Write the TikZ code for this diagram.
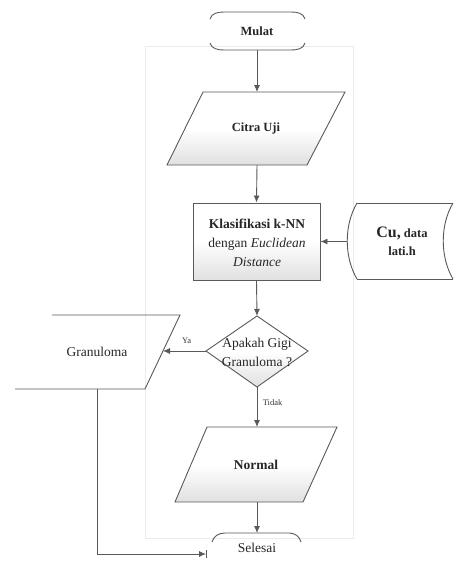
\documentclass[tikz,border=0pt]{standalone}
\usepackage{fontspec}
\setmainfont{Liberation Serif}
\usetikzlibrary{arrows.meta}
\begin{document}
\begin{tikzpicture}[x=1pt,y=-1pt,
  line/.style={draw=black!65, line width=0.9pt},
  arr/.style={line, -{Latex[length=7pt,width=6pt]}},
  shade/.style={top color=white, bottom color=black!12, middle color=white},
  lbl/.style={font=\fontsize{12.5}{14}\selectfont\bfseries, text=black!85, align=center},
  txt/.style={font=\fontsize{13.5}{19}\selectfont, text=black!85, align=center},
  small/.style={font=\fontsize{8.5}{10}\selectfont, text=black!80}]
\useasboundingbox (0,0) rectangle (454,584);
% faint background frame
\draw[black!8, line width=0.6pt] (145,46) rectangle (353,538);

% Mulat
\draw[line] (210,19) to[out=75,in=180] (224,12) -- (291,12) to[out=0,in=105] (305,19);
\draw[line] (210,43) to[out=-75,in=180] (224,50) -- (291,50) to[out=0,in=-105] (305,43);
\node[lbl] (mulat) at (257,31) {Mulat};
\coordinate (mulatB) at (257,50);

% Citra Uji
\path[line, shade] (203,92) -- (345,92) -- (307,165) -- (167,165) -- cycle;
\node[lbl] (citra) at (256,128) {Citra Uji};
\coordinate (citraT) at (257,92);
\coordinate (citraB) at (257,165);

% Klasifikasi
\node[line, shade, minimum width=127pt, minimum height=77pt, inner sep=0pt] (klas) at (256.5,241.5) {};
\node[txt] at (257,243) {\textbf{Klasifikasi k-NN}\\dengan \textit{Euclidean}\\\textit{Distance}};

% Data latih (stored data)
\draw[line] (357,203) -- (453,203);
\draw[line] (357,279) -- (453,279);
\draw[line] (357,203) .. controls (344,225) and (344,257) .. (357,279);
\draw[line] (453,203) .. controls (440,225) and (440,257) .. (453,279);
\node[align=center, text=black!85, font=\fontsize{12.5}{18}\selectfont\bfseries] (data) at (402,241) {{\fontsize{16}{18}\selectfont Cu,} data\\lati.h};
\coordinate (dataL) at (347,241.5);

% Decision
\path[line, shade] (257,316) -- (308,351) -- (257,387) -- (206,351) -- cycle;
\node[txt] (dec) at (257,352) {Apakah Gigi\\Granuloma ?};
\coordinate (decT) at (257,316);
\coordinate (decL) at (206,351);
\coordinate (decB) at (257,387);

% Granuloma
\draw[line] (52,315) -- (180,315) -- (145,389) -- (15,389);
\node[txt] (gran) at (97,352) {Granuloma};
\coordinate (granR) at (163,351);
\coordinate (granB) at (97,389);

% Normal
\path[line, shade] (207,427) -- (337,427) -- (303,502) -- (175,502) -- cycle;
\node[lbl, font=\fontsize{13.5}{15}\selectfont\bfseries] (normal) at (256,465) {Normal};
\coordinate (normalT) at (257,427);
\coordinate (normalB) at (257,502);

% Selesai
\draw[line] (212,542) to[out=75,in=180] (225,533) -- (289,533) to[out=0,in=105] (301,542);
\node[txt] (selesai) at (257,548) {Selesai};
\coordinate (selesaiT) at (257,533);
\coordinate (corner) at (97,554);
\coordinate (selesaiL) at (206,554);

% connectors
\draw[arr] (mulatB) -- (citraT);
\draw[arr] (citraB) -- (klas.north);
\draw[arr] (dataL) -- (klas.east);
\draw[arr] (klas.south) -- (decT);
\draw[arr] (decL) -- (granR) node[pos=0.45, above=4pt, small] {Ya};
\draw[arr] (decB) -- (normalT) node[pos=0.4, right=2pt, small] {Tidak};
\draw[arr] (normalB) -- (selesaiT);
\draw[arr] (granB) -- (corner) -- (selesaiL);
\draw[line, line width=0.7pt] (206,550) -- (206,558);
\end{tikzpicture}
\end{document}
